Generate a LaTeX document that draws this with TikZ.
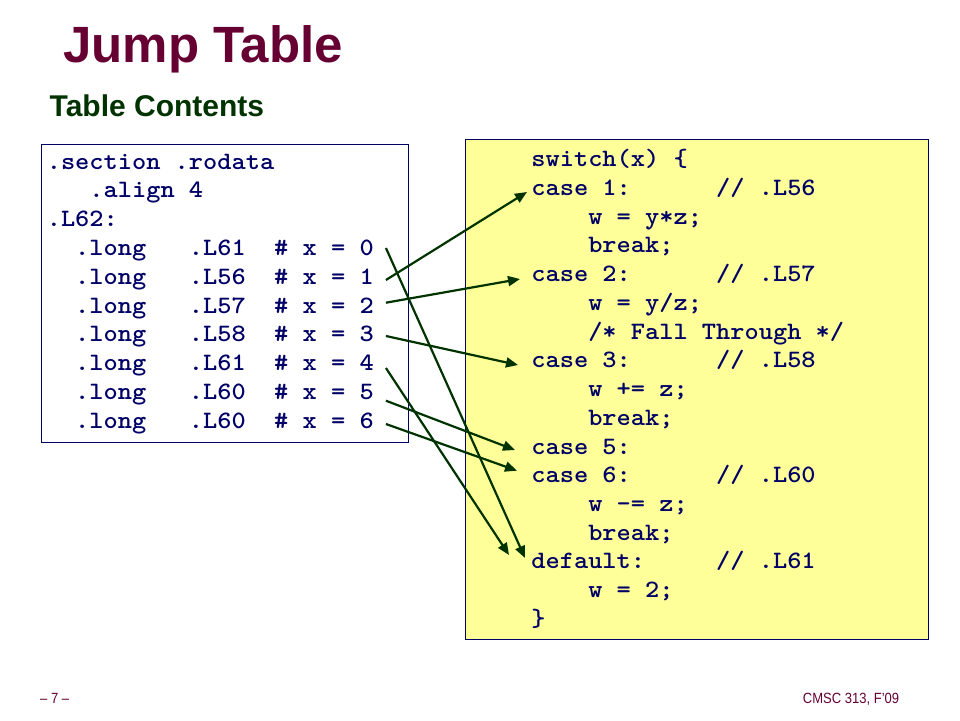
\documentclass[tikz,border=0pt]{standalone}
\usepackage{fontspec}
\setmainfont{Liberation Sans}
\newfontfamily\codefont{Latin Modern Mono Light}[FakeStretch=1.083]
\newfontfamily\footfont{Liberation Sans}[FakeStretch=0.88]
\usetikzlibrary{arrows.meta}
\definecolor{titlered}{HTML}{660033}
\definecolor{headgreen}{HTML}{003300}
\definecolor{codeblue}{HTML}{000066}
\definecolor{arrowgreen}{HTML}{003300}
\definecolor{paleyellow}{HTML}{FFFF99}
\frenchspacing
\begin{document}
\begin{tikzpicture}[x=1pt,y=-1pt,
  codeline/.style={anchor=base west, inner sep=0pt,
    font=\codefont\bfseries\fontsize{25}{29}\selectfont, text=codeblue},
  jump/.style={draw=arrowgreen, line width=2.2pt,
    -{Triangle[length=12pt,width=10pt]}},
  codebox/.style={draw=codeblue, line width=1pt, inner sep=0pt, anchor=north west},
  footer/.style={anchor=base west, inner sep=0pt,
    font=\footfont\fontsize{14.8}{17}\selectfont, text=titlered}
]
\useasboundingbox (0,0) rectangle (960,720);
\fill[white] (0,0) rectangle (960,720);

% headings
\node[anchor=base west, inner sep=0pt, font=\fontsize{51}{60}\selectfont\bfseries,
  text=titlered] (title) at (63,62) {Jump Table};
\node[anchor=base west, inner sep=0pt, font=\fontsize{30}{36}\selectfont\bfseries,
  text=headgreen] (sub) at (49.5,116.7) {Table Contents};

% frames
\node[codebox, minimum width=367pt, minimum height=298pt] (table) at (41,144) {};
\node[codebox, fill=paleyellow, line width=1.2pt, minimum width=463pt,
  minimum height=500pt] (code) at (465,139) {};

% jump table listing
\node[codeline] (s0) at (46.6,169.0) {.section~.rodata};
\node[codeline] (s1) at (46.6,197.8) {~~~.align~4};
\node[codeline] (s2) at (46.6,226.6) {.L62:};
\node[codeline] (t0) at (46.6,255.4) {~~.long~~~.L61~~\#~x~=~0};
\node[codeline] (t1) at (46.6,284.2) {~~.long~~~.L56~~\#~x~=~1};
\node[codeline] (t2) at (46.6,313.0) {~~.long~~~.L57~~\#~x~=~2};
\node[codeline] (t3) at (46.6,341.8) {~~.long~~~.L58~~\#~x~=~3};
\node[codeline] (t4) at (46.6,370.6) {~~.long~~~.L61~~\#~x~=~4};
\node[codeline] (t5) at (46.6,399.4) {~~.long~~~.L60~~\#~x~=~5};
\node[codeline] (t6) at (46.6,428.2) {~~.long~~~.L60~~\#~x~=~6};

% switch statement
\node[codeline] (r0)  at (531.2,166.7) {switch(x)~\{};
\node[codeline] (c1)  at (531.2,195.4) {case~1:~~~~~~//~.L56};
\node[codeline] (r2)  at (531.2,224.2) {~~~~w~=~y*z;};
\node[codeline] (r3)  at (531.2,252.9) {~~~~break;};
\node[codeline] (c2)  at (531.2,281.6) {case~2:~~~~~~//~.L57};
\node[codeline] (r5)  at (531.2,310.4) {~~~~w~=~y/z;};
\node[codeline] (r6)  at (531.2,339.1) {~~~~/*~Fall~Through~*/};
\node[codeline] (c3)  at (531.2,367.8) {case~3:~~~~~~//~.L58};
\node[codeline] (r8)  at (531.2,396.5) {~~~~w~+=~z;};
\node[codeline] (r9)  at (531.2,425.3) {~~~~break;};
\node[codeline] (c5)  at (531.2,454.0) {case~5:};
\node[codeline] (c6)  at (531.2,482.7) {case~6:~~~~~~//~.L60};
\node[codeline] (r12) at (531.2,511.5) {~~~~w~-=~z;};
\node[codeline] (r13) at (531.2,540.2) {~~~~break;};
\node[codeline] (cd)  at (531.2,568.9) {default:~~~~~//~.L61};
\node[codeline] (r15) at (531.2,597.6) {~~~~w~=~2;};
\node[codeline] (r16) at (531.2,626.4) {\}};

% table entries to their case labels
\draw[jump] ([shift={(12,-7.4)}]t0.base east) -- ([shift={(-6.2,-10.9)}]cd.base west);
\draw[jump] ([shift={(12,-4.2)}]t1.base east) -- ([shift={(-4.2,-3.4)}]c1.base west);
\draw[jump] ([shift={(12,-10.3)}]t2.base east) -- ([shift={(-11.2,-2.6)}]c2.base west);
\draw[jump] ([shift={(12,-5.8)}]t3.base east) -- ([shift={(-13.2,-2.8)}]c3.base west);
\draw[jump] ([shift={(12,-2.6)}]t4.base east) -- ([shift={(-22.2,-13.9)}]cd.base west);
\draw[jump] ([shift={(12,1.3)}]t5.base east) -- ([shift={(-16.2,-4)}]c5.base west);
\draw[jump] ([shift={(12,-4.2)}]t6.base east) -- ([shift={(-14.2,-12)}]c6.base west);

% footer
\node[footer] (page) at (40,703.3) {– 7 –};
\node[footer] (course) at (802.7,703.3) {CMSC 313, F’09};
\end{tikzpicture}
\end{document}
